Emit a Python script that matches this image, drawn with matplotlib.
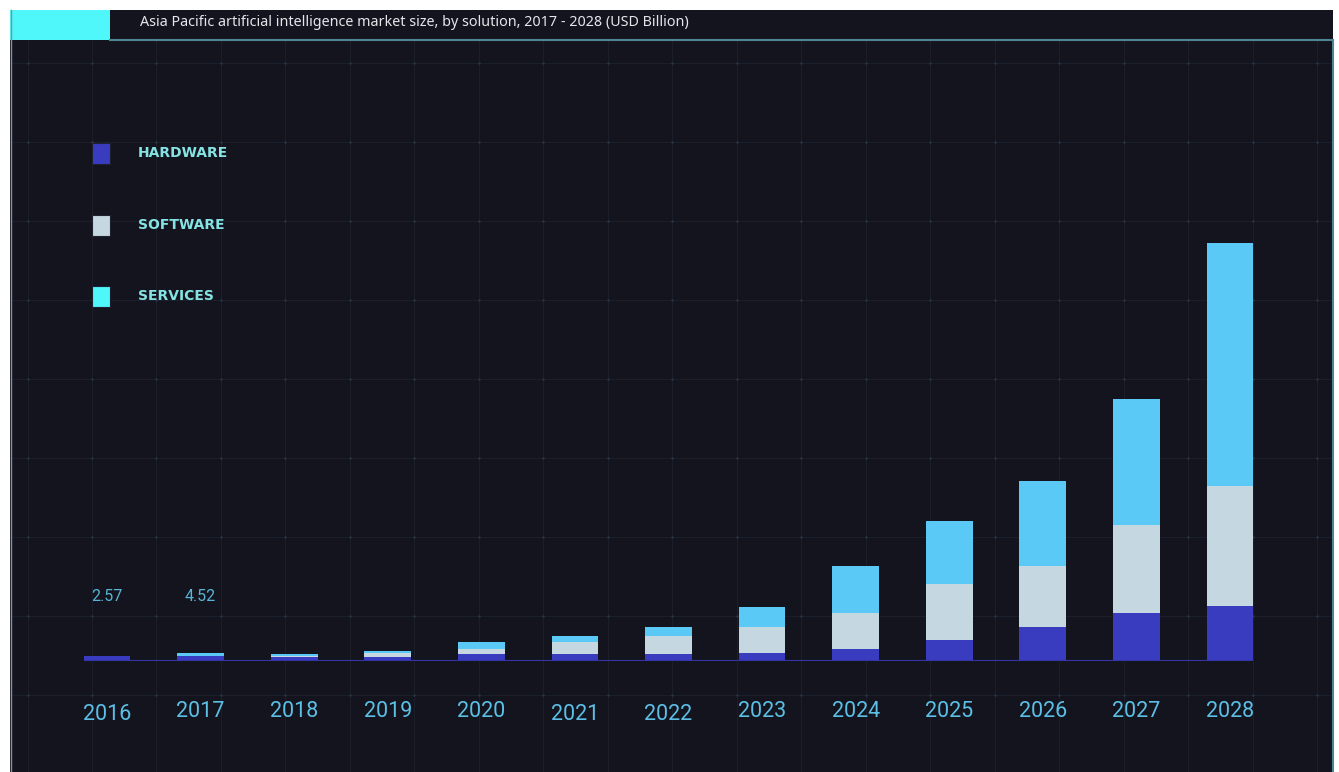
import numpy as np
import matplotlib
matplotlib.use("Agg")
import matplotlib.pyplot as plt
from matplotlib.patches import Rectangle
from matplotlib.lines import Line2D

# datos (USD Billion)
years = ["2016", "2017", "2018", "2019", "2020", "2021", "2022",
         "2023", "2024", "2025", "2026", "2027", "2028"]
hardware = [2.57, 2.8, 2.4, 2.1, 3.8, 4.0, 4.0, 4.4, 6.8, 12.0, 19.2, 27.1, 31.4]
software = [0.0, 0.3, 0.3, 2.3, 3.0, 6.8, 10.3, 15.2, 20.3, 31.9, 34.9, 50.7, 68.4]
services = [0.0, 1.42, 1.1, 1.5, 3.8, 3.4, 5.1, 11.4, 27.0, 35.9, 48.5, 71.8, 138.3]
labels = {0: "2.57", 1: "4.52"}
series_names = ["HARDWARE", "SOFTWARE", "SERVICES"]

BG = "#14141f"
C_HW = "#3a3cbf"
C_SW = "#c5d8e2"
C_SV = "#5bc9f5"
C_SV_LEG = "#4ff6fa"
TICK = "#5cc0e6"
LEG_TXT = "#86e3e3"

W, H = 1339, 772
fig = plt.figure(figsize=(W / 100, H / 100), dpi=100, facecolor="white")

def fx(px):
    return px / W

def fy(py):
    return 1 - py / H

# panel oscuro
fig.patches.append(Rectangle((fx(10), 0), fx(1323), fy(10), transform=fig.transFigure,
                             facecolor=BG, edgecolor="none", zorder=-5))
# barra de titulo
fig.patches.append(Rectangle((fx(10), fy(40)), fx(100), 30 / H, transform=fig.transFigure,
                             facecolor=C_SV_LEG, edgecolor="none", zorder=1))
fig.lines.append(Line2D([fx(110), fx(1333)], [fy(40), fy(40)], transform=fig.transFigure,
                        color="#4f8593", lw=1.5, zorder=2))
fig.lines.append(Line2D([fx(1333), fx(1333)], [fy(40), 0], transform=fig.transFigure,
                        color="#4f8593", lw=1.5, zorder=2))
fig.lines.append(Line2D([fx(10.5), fx(10.5)], [fy(10), 0], transform=fig.transFigure,
                        color="#8a8f99", lw=1, zorder=2))
fig.text(fx(140), fy(22), "Asia Pacific artificial intelligence market size, by solution, 2017 - 2028 (USD Billion)",
         color="#e6e6ea", fontsize=10.3, family="Noto Sans", va="center", ha="left")

# rejilla de fondo
bg = fig.add_axes([fx(10), 0, fx(1323), fy(41)], zorder=-2)
bg.set_xlim(10, 1333)
bg.set_ylim(772, 41)
bg.axis("off")
vx = np.arange(92 - 64.5, 1333, 64.5)
hy = np.arange(63, 772, 79)
for x in vx:
    bg.axvline(x, color="#1b1f2c", lw=0.8, zorder=0)
for y in hy:
    bg.axhline(y, color="#1b1f2c", lw=0.8, zorder=0)
gx, gy = np.meshgrid(vx, hy)
bg.scatter(gx.ravel(), gy.ravel(), s=3, color="#2a3644", zorder=1, linewidths=0)

# grafico principal
scale = 0.57  # billones por pixel
ax_left, ax_right = 60.2, 1276.8
base_px, top_px = 661, 60
ax = fig.add_axes([fx(ax_left), fy(base_px), fx(ax_right - ax_left), (base_px - top_px) / H])
ax.patch.set_alpha(0)
ax.set_xlim(-0.5, len(years) - 0.5)
ax.set_ylim(0, (base_px - top_px) * scale)

x = np.arange(len(years))
hw = np.array(hardware)
sw = np.array(software)
sv = np.array(services)
ax.bar(x, hw, width=0.5, color=C_HW, zorder=3)
ax.bar(x, sw, width=0.5, bottom=hw, color=C_SW, zorder=3)
ax.bar(x, sv, width=0.5, bottom=hw + sw, color=C_SV, zorder=3)
ax.plot([-0.25, len(years) - 0.75], [0, 0], color="#3436a8", lw=1.5, zorder=4, solid_capstyle="butt")

for i, t in labels.items():
    ax.text(i, 36.5, t, color="#5ab4d6", fontsize=11.5, ha="center", va="center", family="Roboto")

for s in ax.spines.values():
    s.set_visible(False)
ax.set_yticks([])
ax.set_xticks(x)
ax.set_xticklabels(years, family="Roboto", fontsize=15.5, color=TICK)
ax.tick_params(axis="x", length=0, pad=29)
for i, lab in enumerate(ax.get_xticklabels()):
    if i in (0, 5, 6):
        lab.set_y(-0.005)

# leyenda
leg_cols = [C_HW, C_SW, C_SV_LEG]
leg_y = [153, 225, 296]
for name, col, yy in zip(series_names, leg_cols, leg_y):
    fig.patches.append(Rectangle((fx(92), fy(yy + 10.5)), fx(18), 21 / H, transform=fig.transFigure,
                                 facecolor=col, edgecolor="#1e2230", lw=0.8, zorder=5))
    fig.text(fx(138), fy(yy), name, color=LEG_TXT, fontsize=10, fontweight="bold",
             family="DejaVu Sans", va="center", ha="left")

fig.savefig("out.png", dpi=100, facecolor="white")
